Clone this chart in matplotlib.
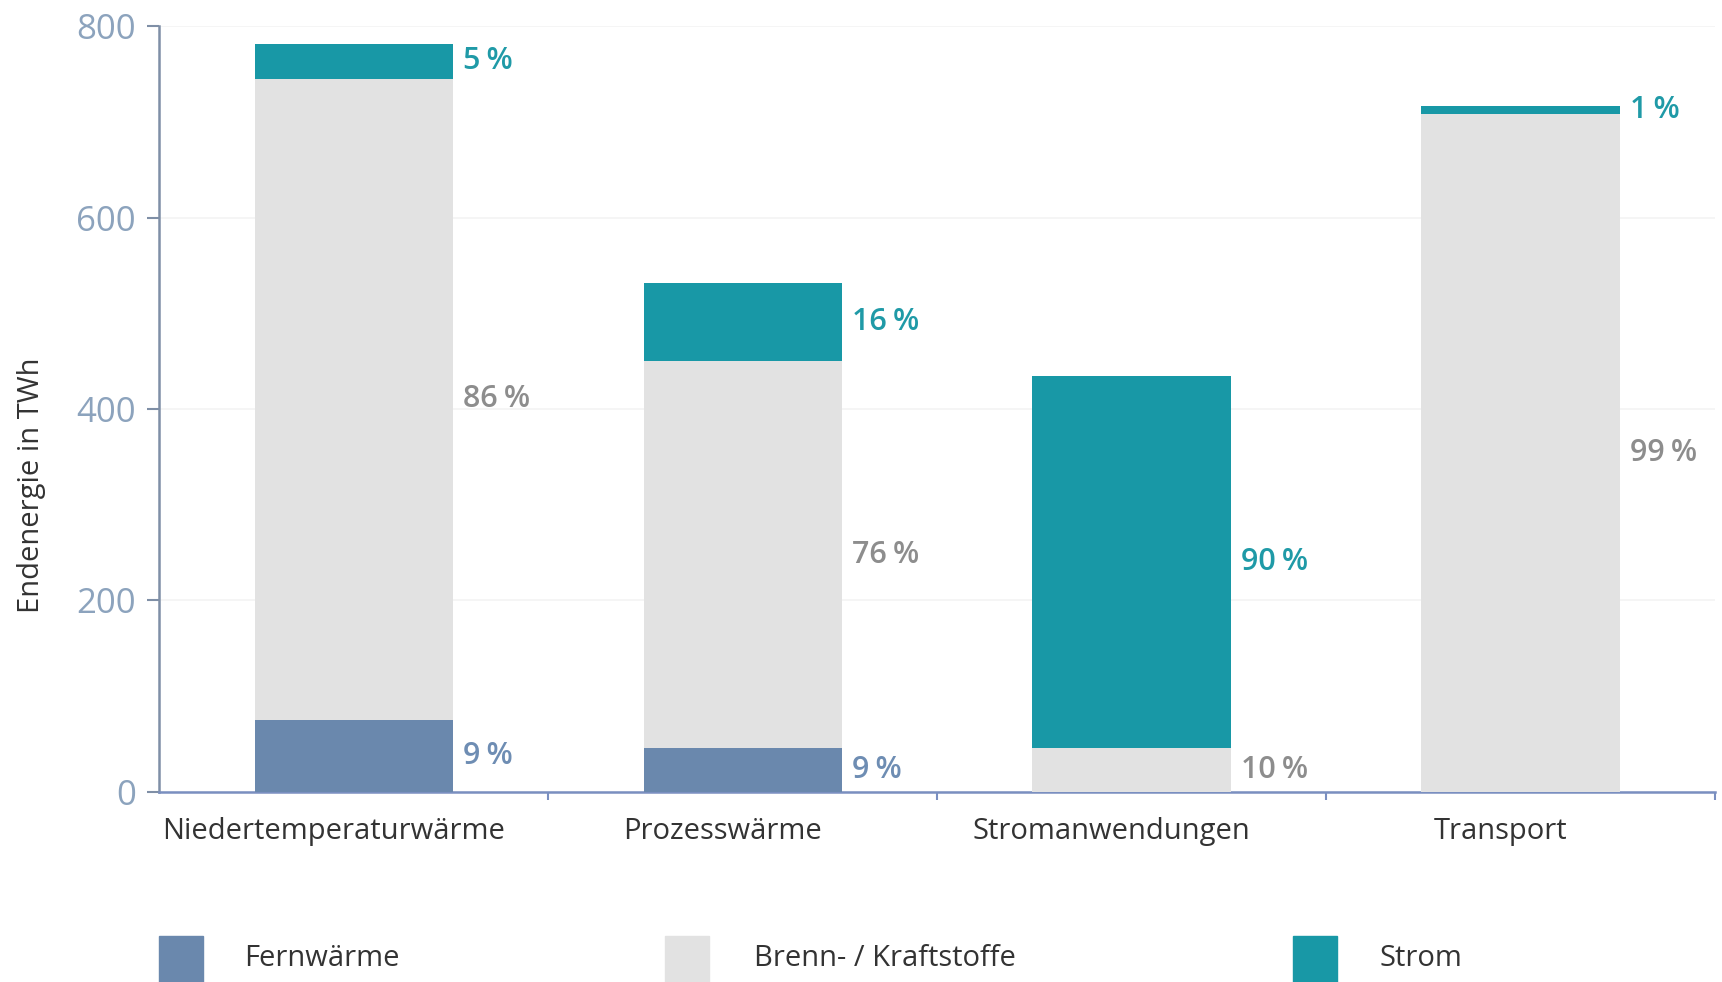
import numpy as np
import matplotlib.pyplot as plt
import matplotlib.transforms as mtransforms
from matplotlib.patches import Rectangle

plt.rcParams['font.family'] = ['Open Sans', 'DejaVu Sans']

# values (TWh)
categories = ["Niedertemperaturwärme", "Prozesswärme", "Stromanwendungen", "Transport"]
fernwaerme = [75, 46, 0, 0]
brennstoffe = [670, 404, 46, 708]
strom = [36, 82, 388, 8]

fern_pct = ["9", "9", None, None]
brenn_pct = ["86", "76", "10", "99"]
strom_pct = ["5", "16", "90", "1"]

series_names = ["Fernwärme", "Brenn- / Kraftstoffe", "Strom"]
colors = ["#6a88ad", "#e2e2e2", "#1898a6"]
label_colors = ["#6e8db3", "#8d8d8d", "#1f9aa7"]

fig = plt.figure(figsize=(17.22, 9.82), dpi=100)
ax = fig.add_axes([0.0925, 0.1935, 0.9035, 0.78])

x = np.arange(len(categories))
width = 0.51
bottom = np.zeros(len(categories))
for vals, pcts, col, lcol in zip([fernwaerme, brennstoffe, strom],
                                 [fern_pct, brenn_pct, strom_pct],
                                 colors, label_colors):
    vals = np.array(vals, dtype=float)
    ax.bar(x, vals, width, bottom=bottom, color=col, zorder=3)
    for xi, v, b, p in zip(x, vals, bottom, pcts):
        if p is None:
            continue
        ax.text(xi + width / 2 + 0.025, b + v / 2, f"{p}\u2009%",
                ha="left", va="center", fontsize=22, fontweight="semibold",
                color=lcol, zorder=4)
    bottom += vals

ax.set_xlim(-0.5, 3.5)
ax.set_ylim(0, 800)
ax.set_yticks([0, 200, 400, 600, 800])
ax.grid(axis="y", color="#f3f3f3", linewidth=1.2, zorder=0)
ax.set_axisbelow(True)

ax.set_xticks(x)
ax.set_xticklabels(categories, fontsize=21, color="#333333")
ax.tick_params(axis="x", length=0, pad=18)
shift = mtransforms.ScaledTranslation(-0.2, 0, fig.dpi_scale_trans)
for lbl in ax.get_xticklabels():
    lbl.set_transform(lbl.get_transform() + shift)
ax.set_xticks([0.5, 1.5, 2.5, 3.5], minor=True)
ax.tick_params(axis="x", which="minor", length=6, width=1.5, color="#7a8fc0")
ax.tick_params(axis="y", length=9, width=1.5, color="#7f8fa6",
               labelsize=25, labelcolor="#8ca3bd", pad=8)
ax.set_ylabel("Endenergie in TWh", fontsize=21, color="#333333")
ax.yaxis.set_label_coords(-0.073, 0.40)

for s in ["top", "right"]:
    ax.spines[s].set_visible(False)
ax.spines["left"].set_color("#7f8fa6")
ax.spines["left"].set_linewidth(1.8)
ax.spines["bottom"].set_color("#7a8fc0")
ax.spines["bottom"].set_linewidth(1.8)

# legend along the bottom
leg_x = [0.0925, 0.386, 0.751]
txt_x = [0.142, 0.438, 0.801]
for name, col, px, tx in zip(series_names, colors, leg_x, txt_x):
    fig.add_artist(Rectangle((px, 0.0), 0.0255, 0.047, transform=fig.transFigure,
                             color=col))
    fig.text(tx, 0.024, name, fontsize=21, color="#333333", va="center", ha="left")

fig.savefig("out.png", dpi=100)
